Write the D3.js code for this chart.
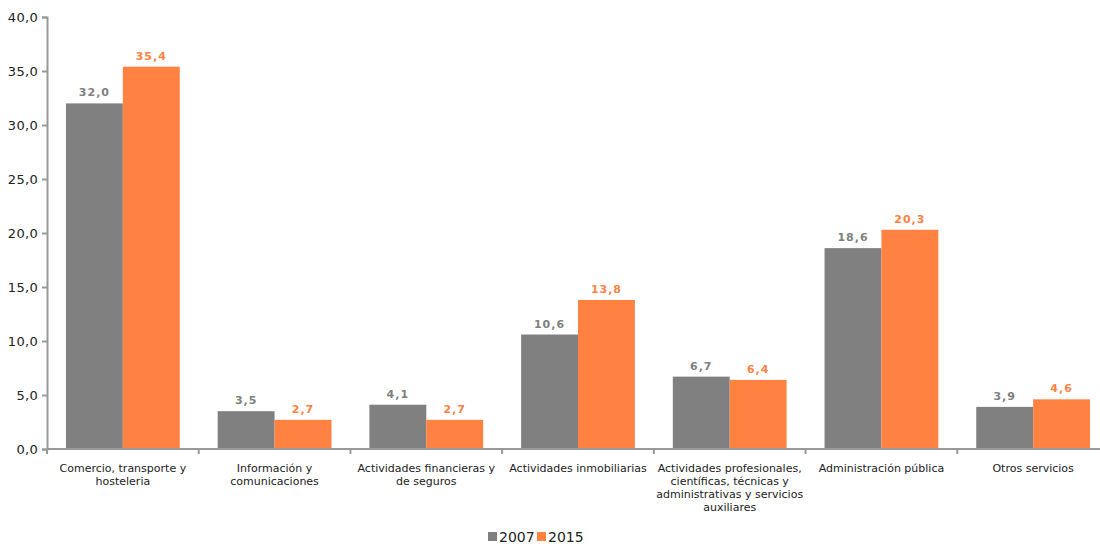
<!DOCTYPE html>
<html><head><meta charset="utf-8">
<script src="https://cdn.jsdelivr.net/npm/d3@7"></script>
<style>body{margin:0;background:#fff}svg{display:block}text{font-family:"DejaVu Sans",Verdana,sans-serif}</style>
</head><body><svg id="c" width="1100" height="544"></svg>
<script>
const categories = [
  ["Comercio, transporte y","hosteleria"],
  ["Información y","comunicaciones"],
  ["Actividades financieras y","de seguros"],
  ["Actividades inmobiliarias"],
  ["Actividades profesionales,","científicas, técnicas y","administrativas y servicios","auxiliares"],
  ["Administración pública"],
  ["Otros servicios"]
];
const series = ["2007","2015"];
const values2007 = [32.0,3.5,4.1,10.6,6.7,18.6,3.9];
const values2015 = [35.4,2.7,2.7,13.8,6.4,20.3,4.6];
const yTicks = [0,5,10,15,20,25,30,35,40];
const colors = ["#808080","#ff8243"];
const labelColors = ["#7f7f7f","#ff8243"];

(function(){
const svg = d3.select("#c");
const mLeft = 47, mRight = 1109, mTop = 17, mBottom = 449;
const fmt = v => v.toFixed(1).replace(".", ",");
const idx = d3.range(categories.length);
const x = d3.scaleBand().domain(idx).range([mLeft,mRight]).paddingInner(0.25).paddingOuter(0.125);
const xOuter = d3.scaleBand().domain(idx).range([mLeft,mRight]);
const x1 = d3.scaleBand().domain(series).range([0,x.bandwidth()]);
const y = d3.scaleLinear().domain([0,40]).range([mBottom,mTop]);
const data = [values2007, values2015];

series.forEach((s,si)=>{
  svg.append("g").selectAll("rect").data(data[si]).join("rect")
    .attr("x",(d,i)=>x(i)+x1(s)).attr("y",d=>y(d))
    .attr("width",x1.bandwidth()).attr("height",d=>y(0)-y(d))
    .attr("fill",colors[si]);
  svg.append("g").selectAll("text").data(data[si]).join("text")
    .attr("x",(d,i)=>x(i)+x1(s)+x1.bandwidth()/2).attr("y",d=>y(d)-7)
    .attr("text-anchor","middle").attr("font-size",11).attr("font-weight","bold")
    .attr("letter-spacing",1).attr("fill",labelColors[si]).text(fmt);
});

const yAxis = svg.append("g").attr("transform",`translate(${mLeft},0)`)
  .call(d3.axisLeft(y).tickValues(yTicks).tickSize(5).tickPadding(4).tickFormat(fmt));
yAxis.select(".domain").attr("stroke","#999").attr("stroke-width",2);
yAxis.selectAll(".tick line").attr("stroke","#999").attr("stroke-width",2);
yAxis.selectAll(".tick text").attr("font-size",13).attr("fill","#222").attr("font-family","DejaVu Sans, sans-serif").attr("letter-spacing",0.3);

const xg = svg.append("g").attr("transform",`translate(0,${mBottom})`);
xg.append("line").attr("x1",mLeft).attr("x2",mRight).attr("stroke","#999").attr("stroke-width",2);
xg.selectAll("line.t").data(d3.range(categories.length+1)).join("line").attr("class","t")
  .attr("x1",i=>i<categories.length?xOuter(i):mRight).attr("x2",i=>i<categories.length?xOuter(i):mRight)
  .attr("y1",0).attr("y2",5).attr("stroke","#999").attr("stroke-width",2);
categories.forEach((lines,i)=>{
  const cx = xOuter(i)+xOuter.bandwidth()/2;
  const t = svg.append("text").attr("text-anchor","middle").attr("font-size",11).attr("fill","#222")
    .attr("x",cx).attr("y",472);
  lines.forEach((l,j)=>t.append("tspan").attr("x",cx).attr("dy",j?13:0).text(l));
});

const lg = svg.append("g");
const legendX = [488,537];
series.forEach((s,si)=>{
  lg.append("rect").attr("x",legendX[si]).attr("y",532).attr("width",9).attr("height",9).attr("fill",colors[si]);
  lg.append("text").attr("x",legendX[si]+11).attr("y",542).attr("font-size",14).attr("fill","#222").text(s);
});
})();
</script></body></html>
